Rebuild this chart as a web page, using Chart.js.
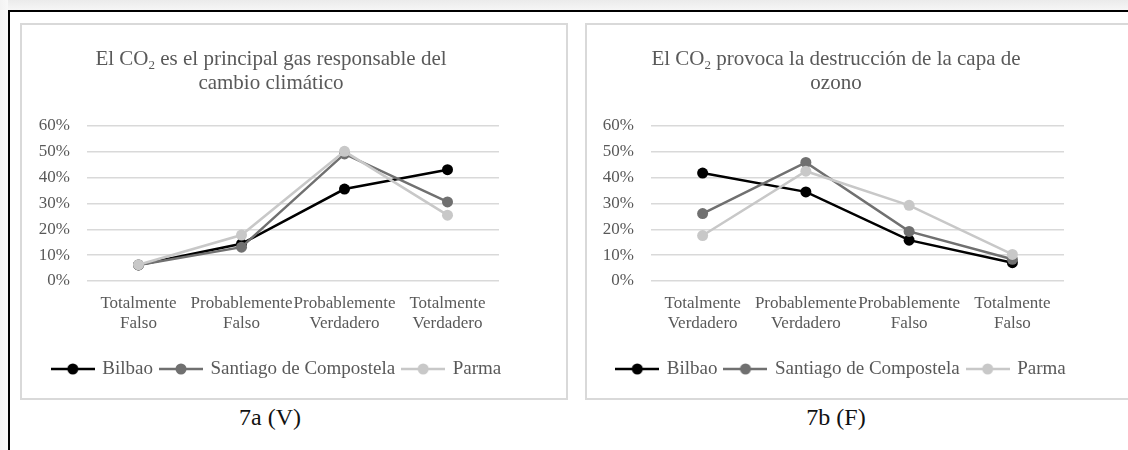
<!DOCTYPE html>
<html>
<head>
<meta charset="utf-8">
<script src="https://cdn.jsdelivr.net/npm/chart.js@4.4.1/dist/chart.umd.min.js"></script>
<style>
  html, body { margin:0; padding:0; background:#fff; }
  body { width:1128px; height:450px; position:relative; overflow:hidden; font-family:"Liberation Serif", "DejaVu Serif", serif; }
  .shadowTop { position:absolute; left:0; top:0; width:1128px; height:10px; background:linear-gradient(#ebebeb,#f6f6f6); }
  .shadowLeft { position:absolute; left:0; top:0; width:8px; height:450px; background:linear-gradient(90deg,#f3f3f3,#f8f8f8); }
  .lineTop { position:absolute; left:8px; top:10px; width:1120px; height:2px; background:#000; }
  .lineLeft { position:absolute; left:8px; top:10px; width:2px; height:440px; background:#000; }
  .box { position:absolute; top:23px; height:373px; border:2px solid #d9d9d9; background:#fff; }
  .box canvas { position:absolute; left:0; top:0; }
  .title { position:absolute; width:500px; text-align:center; color:#595959; font-size:21px; line-height:24px; }
  .title sub { font-size:13px; line-height:0; vertical-align:-4px; }
  .caption { position:absolute; width:200px; text-align:center; color:#111; font-size:24px; top:404px; }
</style>
</head>
<body>
<div class="shadowTop"></div>
<div class="shadowLeft"></div>
<div class="lineTop"></div>
<div class="lineLeft"></div>

<div class="box" id="boxA" style="left:20px; width:544px;">
  <canvas id="chartA" width="544" height="373"></canvas>
</div>
<div class="box" id="boxB" style="left:585px; width:560px;">
  <canvas id="chartB" width="543" height="373"></canvas>
</div>

<div class="title" style="left:21px; top:46px;">El CO<sub>2</sub> es el principal gas responsable del<br>cambio climático</div>
<div class="title" style="left:586px; top:46px;">El CO<sub>2</sub> provoca la destrucción de la capa de<br>ozono</div>

<div class="caption" style="left:170px;">7a (V)</div>
<div class="caption" style="left:736px;">7b (F)</div>

<script>
// ---- data ----
const seriesNames = ["Bilbao", "Santiago de Compostela", "Parma"];
const seriesColors = ["#000000", "#707070", "#c8c8c8"];

const categoriesA = [["Totalmente", "Falso"], ["Probablemente", "Falso"], ["Probablemente", "Verdadero"], ["Totalmente", "Verdadero"]];
const bilbaoA   = [6.2, 14.4, 35.6, 43.1];
const santiagoA = [6.2, 13.1, 49.2, 30.6];
const parmaA    = [6.3, 17.8, 50.2, 25.5];

const categoriesB = [["Totalmente", "Verdadero"], ["Probablemente", "Verdadero"], ["Probablemente", "Falso"], ["Totalmente", "Falso"]];
const bilbaoB   = [41.8, 34.5, 15.8, 7.1];
const santiagoB = [26.1, 45.9, 19.2, 8.4];
const parmaB    = [17.6, 42.5, 29.3, 10.3];

const yTicks = [0, 10, 20, 30, 40, 50, 60];
// ---------------

function legendIcon(color) {
  const c = document.createElement('canvas');
  c.width = 44; c.height = 14;
  const g = c.getContext('2d');
  g.strokeStyle = color; g.lineWidth = 2.5;
  g.beginPath(); g.moveTo(0, 7); g.lineTo(44, 7); g.stroke();
  g.fillStyle = color;
  g.beginPath(); g.arc(22, 7, 5.5, 0, Math.PI * 2); g.fill();
  return c;
}
const icons = seriesColors.map(legendIcon);

function makeChart(id, categories, values, yAxisWidth, rightAxisWidth) {
  const datasets = values.map((v, i) => ({
    label: seriesNames[i],
    data: v,
    borderColor: seriesColors[i],
    backgroundColor: seriesColors[i],
    pointBackgroundColor: seriesColors[i],
    pointBorderColor: seriesColors[i],
    pointRadius: 5.5,
    pointBorderWidth: 0,
    borderWidth: 2.5,
    tension: 0,
    order: values.length - i,
    yAxisID: 'y'
  }));
  return new Chart(document.getElementById(id), {
    type: 'line',
    data: { labels: categories, datasets },
    options: {
      responsive: false,
      animation: false,
      devicePixelRatio: 1,
      layout: { padding: { left: 0, right: 34, top: 101, bottom: 9.5 } },
      plugins: {
        tooltip: { enabled: false },
        title: { display: false },
        legend: {
          display: true,
          position: 'bottom',
          labels: {
            usePointStyle: true,
            pointStyleWidth: 40,
            boxHeight: 14,
            padding: 8,
            color: '#595959',
            font: { family: '"Liberation Serif", serif', size: 19 },
            generateLabels: (chart) => chart.data.datasets.map((ds, i) => ({
              text: ds.label,
              datasetIndex: i,
              pointStyle: icons[i],
              fillStyle: ds.borderColor,
              strokeStyle: ds.borderColor,
              lineWidth: 0,
              hidden: false,
              fontColor: '#595959'
            }))
          }
        }
      },
      scales: {
        x: {
          type: 'category',
          offset: true,
          grid: { display: false, drawTicks: false },
          border: { display: false },
          ticks: {
            autoSkip: false, maxRotation: 0, minRotation: 0,
            padding: 12,
            color: '#595959',
            font: { family: '"Liberation Serif", serif', size: 17 }
          },
          afterFit: (s) => { s.height += 5.7; }
        },
        y: {
          min: 0, max: 60,
          afterBuildTicks: (s) => { s.ticks = yTicks.map(v => ({ value: v })); },
          grid: { color: '#d9d9d9', lineWidth: 1.5, drawTicks: false },
          border: { display: false },
          ticks: {
            padding: 17,
            color: '#595959',
            font: { family: '"Liberation Serif", serif', size: 17 },
            callback: (v) => v + '%'
          },
          afterFit: (s) => { s.width = yAxisWidth; }
        },
        yR: {
          position: 'right',
          display: true,
          grid: { display: false, drawTicks: false },
          border: { display: false },
          ticks: { display: false },
          afterFit: (s) => { s.width = rightAxisWidth; }
        }
      }
    }
  });
}

makeChart('chartA', categoriesA, [bilbaoA, santiagoA, parmaA], 65, 33);
makeChart('chartB', categoriesB, [bilbaoB, santiagoB, parmaB], 64, 32);
</script>
</body>
</html>
